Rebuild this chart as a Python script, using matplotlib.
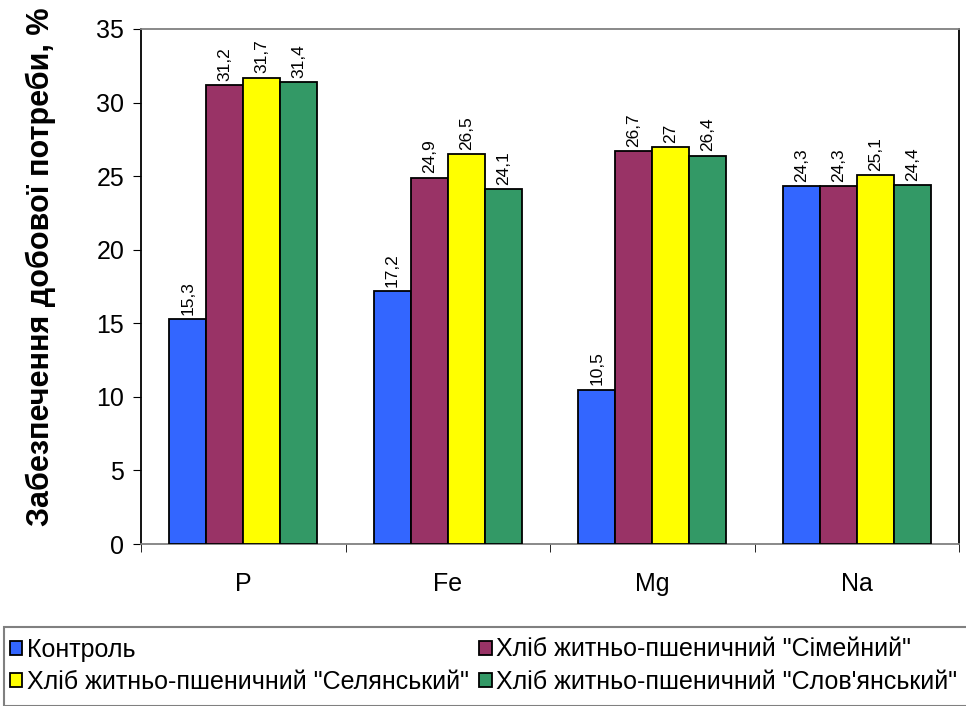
import matplotlib
matplotlib.use("Agg")
import matplotlib.pyplot as plt
import numpy as np
from matplotlib.patches import Rectangle

plt.rcParams['font.family'] = ['Liberation Sans', 'DejaVu Sans']

categories = ["P", "Fe", "Mg", "Na"]
series_names = ["Контроль",
                "Хліб житньо-пшеничний \"Сімейний\"",
                "Хліб житньо-пшеничний \"Селянський\"",
                "Хліб житньо-пшеничний \"Слов'янський\""]
control = [15.3, 17.2, 10.5, 24.3]
simeinyi = [31.2, 24.9, 26.7, 24.3]
selianskyi = [31.7, 26.5, 27.0, 25.1]
slovianskyi = [31.4, 24.1, 26.4, 24.4]
series = [control, simeinyi, selianskyi, slovianskyi]
colors = ["#3366FF", "#993366", "#FFFF00", "#339966"]
yticks = [0, 5, 10, 15, 20, 25, 30, 35]

W, H = 966, 706
fig = plt.figure(figsize=(W/100, H/100), dpi=100)
ax = fig.add_axes([141/W, 1-544/H, (959-141)/W, (544-29)/H])

x = np.arange(len(categories))
bw = 0.181
for i, (vals, c) in enumerate(zip(series, colors)):
    pos = x + (i - 1.5) * bw
    ax.bar(pos, vals, width=bw, color=c, edgecolor="black", linewidth=1.3, zorder=3)
    for p, v in zip(pos, vals):
        lab = f"{v:g}".replace(".", ",")
        ax.annotate(lab, (p, v), xytext=(0, 3), textcoords="offset points",
                    rotation=90, ha="center", va="bottom", fontsize=12.5)

ax.set_xlim(-0.5, len(categories) - 0.5)
ax.set_ylim(0, 35)
ax.set_yticks(yticks)
ax.set_yticklabels([str(t) for t in yticks], fontsize=18)
ax.set_xticks(x)
ax.set_xticklabels(categories, fontsize=18)
ax.tick_params(axis='x', length=0, pad=20)
ax.set_xticks(np.arange(-0.5, len(categories)), minor=True)
ax.tick_params(axis='x', which='minor', length=6, direction='out', color='black')
ax.tick_params(axis='y', length=6, direction='out', pad=6)
ax.spines['left'].set_color('black')
ax.spines['bottom'].set_color('#808080')
ax.spines['top'].set_color('#808080')
ax.spines['right'].set_color('black')
for s in ax.spines.values():
    s.set_linewidth(1.3)
ax.set_ylabel("Забезпечення добової потреби, %", fontsize=22, fontweight='bold')
ax.yaxis.set_label_coords((56-141)/818, (544-267)/515)

# legend frame
fig.patches.append(Rectangle((4/W, 0), 1.2, (706-627)/H, transform=fig.transFigure,
                             fill=False, edgecolor='#808080', linewidth=1.5))
handles = [Rectangle((0, 0), 1, 1, facecolor=c, edgecolor='black', linewidth=1.3) for c in colors]
order = [0, 2, 1, 3]
fig.legend([handles[i] for i in order], [series_names[i] for i in order],
           ncol=2, loc='upper left', bbox_to_anchor=(-8/W, 1-620/H), frameon=False,
           fontsize=18, handlelength=0.5, handleheight=0.5, handletextpad=0.2,
           columnspacing=0.4, labelspacing=0.33, borderpad=0.2)

fig.savefig("out.png", dpi=100)
